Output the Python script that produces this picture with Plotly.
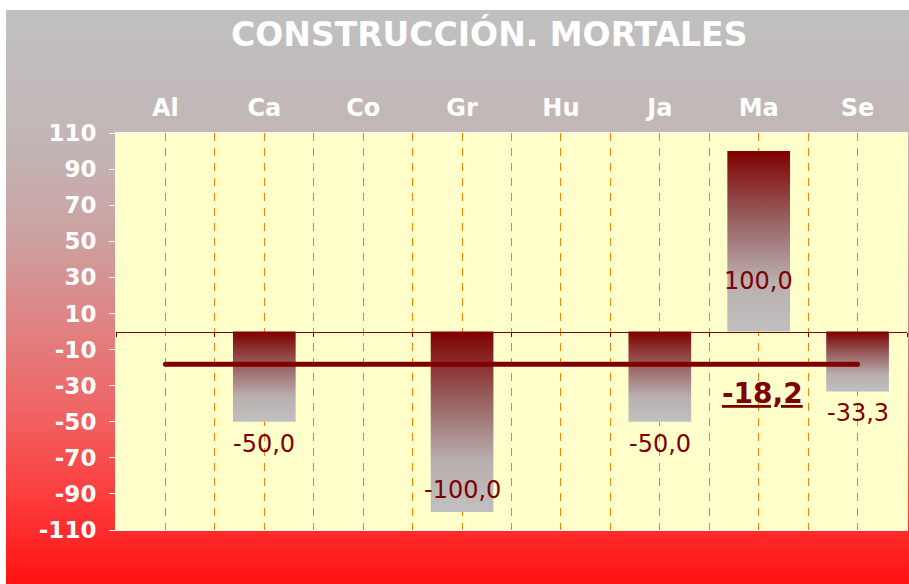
import base64
import plotly.graph_objects as go

# ---- data ----
categories = ["Al", "Ca", "Co", "Gr", "Hu", "Ja", "Ma", "Se"]
values = [None, -50.0, None, -100.0, None, -50.0, 100.0, -33.3]
average = -18.2
y_ticks = [-110, -90, -70, -50, -30, -10, 10, 30, 50, 70, 90, 110]
title_text = "CONSTRUCCIÓN. MORTALES"

# ---- style ----
W, H = 909, 584
ML, MR, MT, MB = 116, 2, 133, 54
PW, PH = W - ML - MR, H - MT - MB
BG_X0, BG_Y0 = 6, 10          # chart area starts here (white outside)
DARK = "#800000"
BAR_W = 0.634
FONT = "DejaVu Sans"
# label pixel offsets (vertical) relative to bar end, per category
label_shift = {"Ca": -22, "Gr": 22, "Ja": -22, "Ma": -130, "Se": -21}

def fmt(v):
    return f"{v:.1f}".replace(".", ",")

fig = go.Figure()

# background gradient (whole chart area) via inline SVG
stops = [(0, "#C0C0C0"), (0.25, "#C3B4B4"), (0.4, "#CDA0A0"), (0.55, "#E08282"),
         (0.7, "#F06464"), (0.85, "#FC3C3C"), (1, "#FF1212")]
stop_xml = "".join(f'<stop offset="{o}" stop-color="{c}"/>' for o, c in stops)
svg = ('<svg xmlns="http://www.w3.org/2000/svg" width="100" height="100" viewBox="0 0 100 100" '
       'preserveAspectRatio="none"><defs><linearGradient id="g" x1="0" y1="0" x2="0" y2="1">'
       f'{stop_xml}</linearGradient></defs><rect width="100" height="100" fill="url(#g)"/></svg>')
src = "data:image/svg+xml;base64," + base64.b64encode(svg.encode()).decode()

# bars with vertical gradient
bar_scale = [[0, "#C0C0C0"], [0.28, "#B9AFAF"], [0.65, "#965A5A"], [1, DARK]]
for i, (c, v) in enumerate(zip(categories, values)):
    if v is None:
        continue
    lo, hi = min(0, v), max(0, v)
    x0, x1 = i - BAR_W / 2, i + BAR_W / 2
    fig.add_trace(go.Scatter(
        x=[x0, x1, x1, x0, x0], y=[0, 0, v, v, 0], mode="lines",
        line=dict(width=0), fill="toself",
        fillgradient=dict(type="vertical", colorscale=bar_scale, start=lo, stop=hi),
        hoverinfo="skip", showlegend=False))

# average line
fig.add_trace(go.Scatter(
    x=[0, len(categories) - 1], y=[average, average], mode="lines+markers",
    line=dict(color=DARK, width=5), marker=dict(color=DARK, size=5),
    hoverinfo="skip", showlegend=False))

# dummy trace for zero-line axis
fig.add_trace(go.Scatter(x=[None], y=[None], xaxis="x2", showlegend=False, hoverinfo="skip"))

# data labels
for i, (c, v) in enumerate(zip(categories, values)):
    if v is None:
        continue
    fig.add_annotation(x=i, y=v, text=fmt(v), showarrow=False, yshift=label_shift[c],
                       font=dict(family=FONT, size=24, color=DARK))

# average label
fig.add_annotation(x=6, y=average, text="<b><u>" + fmt(average) + "</u></b>", showarrow=False,
                   xshift=4, yshift=-29, font=dict(family=FONT, size=28, color=DARK))

# title
fig.add_annotation(xref="paper", yref="paper", x=(488.5 - ML) / PW,
                   y=1 + (MT - 34) / PH,
                   text="<b>" + title_text + "</b>", showarrow=False, xanchor="center",
                   yanchor="middle", font=dict(family=FONT, size=33, color="white"))

n = len(categories)
fig.update_layout(
    width=W, height=H,
    margin=dict(l=ML, r=MR, t=MT, b=MB, pad=0),
    paper_bgcolor="white", plot_bgcolor="rgba(0,0,0,0)",
    images=[dict(source=src, xref="paper", yref="paper",
                 x=(BG_X0 - ML) / PW, y=1 + (MT - BG_Y0) / PH,
                 sizex=(W - BG_X0) / PW, sizey=(H - BG_Y0) / PH,
                 xanchor="left", yanchor="top", sizing="stretch", layer="below")],
    shapes=[dict(type="rect", xref="paper", yref="paper", x0=0, x1=1, y0=0, y1=1,
                 fillcolor="#FFFFCC", line=dict(width=0), layer="below")],
    xaxis=dict(range=[-0.5, n - 0.5], side="top", tickmode="array",
               tickvals=list(range(n)), ticktext=categories, ticks="",
               tickfont=dict(family=FONT, size=24, color="white", weight="bold"),
               ticklabelstandoff=6,
               showgrid=True, gridcolor="#FF8000", gridwidth=1, griddash="8px,7px",
               minor=dict(tickmode="array", tickvals=[k + 0.5 for k in range(n - 1)],
                          showgrid=True, gridcolor="#FF8000", gridwidth=1, griddash="8px,7px",
                          ticks=""),
               showline=True, linecolor="#FFF4F4", linewidth=1, mirror=True,
               zeroline=False, fixedrange=True),
    xaxis2=dict(range=[-0.5, n - 0.5], overlaying="x", anchor="free", position=0.5,
                side="bottom", showline=True, linecolor=DARK, linewidth=1,
                tickmode="array", tickvals=[k - 0.5 for k in range(n + 1)],
                ticks="outside", ticklen=4, tickcolor=DARK, tickwidth=1,
                showticklabels=False, showgrid=False, zeroline=False, fixedrange=True),
    yaxis=dict(range=[-110, 110], tickmode="array", tickvals=y_ticks,
               ticktext=[str(t) for t in y_ticks], ticks="outside", ticklen=6,
               tickcolor="white", tickwidth=1, ticklabelstandoff=8,
               tickfont=dict(family=FONT, size=23, color="white", weight="bold"),
               showline=True, linecolor="#FFF4F4", linewidth=1, mirror=True,
               showgrid=False, zeroline=False, fixedrange=True),
)

fig.write_html("out.html",
               config={"displayModeBar": False},
               post_script="document.body.style.margin='0';"
                           "document.documentElement.style.overflow='hidden';"
                           "document.body.style.overflow='hidden';")
